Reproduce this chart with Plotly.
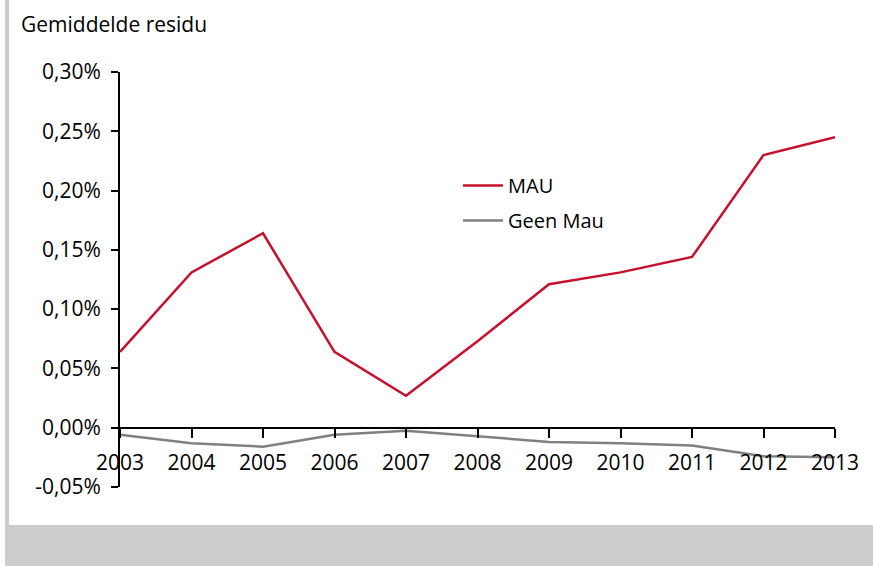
import plotly.graph_objects as go

years = [2003, 2004, 2005, 2006, 2007, 2008, 2009, 2010, 2011, 2012, 2013]
mau = [0.00064, 0.00131, 0.00164, 0.00064, 0.00027, 0.00073, 0.00121, 0.00131, 0.00144, 0.00230, 0.00245]
geen_mau = [-0.00006, -0.00013, -0.00016, -0.00006, -0.000025, -0.00007, -0.00012, -0.00013, -0.00015, -0.00024, -0.00025]
ytick_vals = [-0.0005, 0.0, 0.0005, 0.0010, 0.0015, 0.0020, 0.0025, 0.0030]
ytick_text = ["-0,05%", "0,00%", "0,05%", "0,10%", "0,15%", "0,20%", "0,25%", "0,30%"]
title_text = "Gemiddelde residu"

W, H = 873, 566
L, R, T, B = 120, 38, 72, 79
pw, ph = W - L - R, H - T - B
ymin, ymax = -0.0005, 0.0030

def px_x(p):
    return (p - L) / pw

def px_y(p):
    return (H - B - p) / ph

FONT = "Open Sans"
fig = go.Figure()
fig.add_trace(go.Scatter(x=years, y=mau, mode="lines", name="MAU", legendgroup="MAU",
                         line=dict(color="#c8102e", width=2.5)))
fig.add_trace(go.Scatter(x=years, y=geen_mau, mode="lines", name="Geen Mau", legendgroup="Geen Mau",
                         line=dict(color="#808080", width=2.5)))

fig.update_layout(
    width=W, height=H,
    margin=dict(l=L, r=R, t=T, b=B, pad=0),
    paper_bgcolor="white", plot_bgcolor="white",
    font=dict(family=FONT, size=21, color="black"),
    title=dict(text=title_text, x=21 / W, xref="container", xanchor="left",
               y=1 - 25 / H, yref="container", yanchor="middle",
               font=dict(family=FONT, size=21, color="black")),
    showlegend=True,
    legend=dict(x=px_x(458), y=px_y(166), xanchor="left", yanchor="top",
                bgcolor="rgba(0,0,0,0)", font=dict(size=20), itemwidth=40,
                traceorder="grouped", tracegroupgap=6),
    xaxis=dict(range=[2003, 2013], tickvals=years, ticktext=[str(y) for y in years],
               anchor="free", position=(0 - ymin) / (ymax - ymin),
               showline=True, linecolor="black", linewidth=2,
               ticks="outside", ticklen=9, tickwidth=2, tickcolor="black",
               showgrid=False, zeroline=False, ticklabelstandoff=7),
    yaxis=dict(range=[ymin, ymax], tickvals=ytick_vals, ticktext=ytick_text,
               showline=True, linecolor="black", linewidth=2,
               ticks="outside", ticklen=7, tickwidth=2, tickcolor="black",
               showgrid=False, zeroline=False, ticklabelstandoff=6),
    shapes=[
        dict(type="rect", xref="paper", yref="paper",
             x0=px_x(5), x1=px_x(9), y0=px_y(566), y1=px_y(0),
             fillcolor="#cccccc", line=dict(width=0), layer="below"),
        dict(type="rect", xref="paper", yref="paper",
             x0=px_x(5), x1=px_x(873), y0=px_y(566), y1=px_y(525),
             fillcolor="#cccccc", line=dict(width=0), layer="below"),
    ],
)
fig.write_html("out.html", config={"displayModeBar": False},
               post_script="document.body.style.margin='0';document.body.style.overflow='hidden';")
